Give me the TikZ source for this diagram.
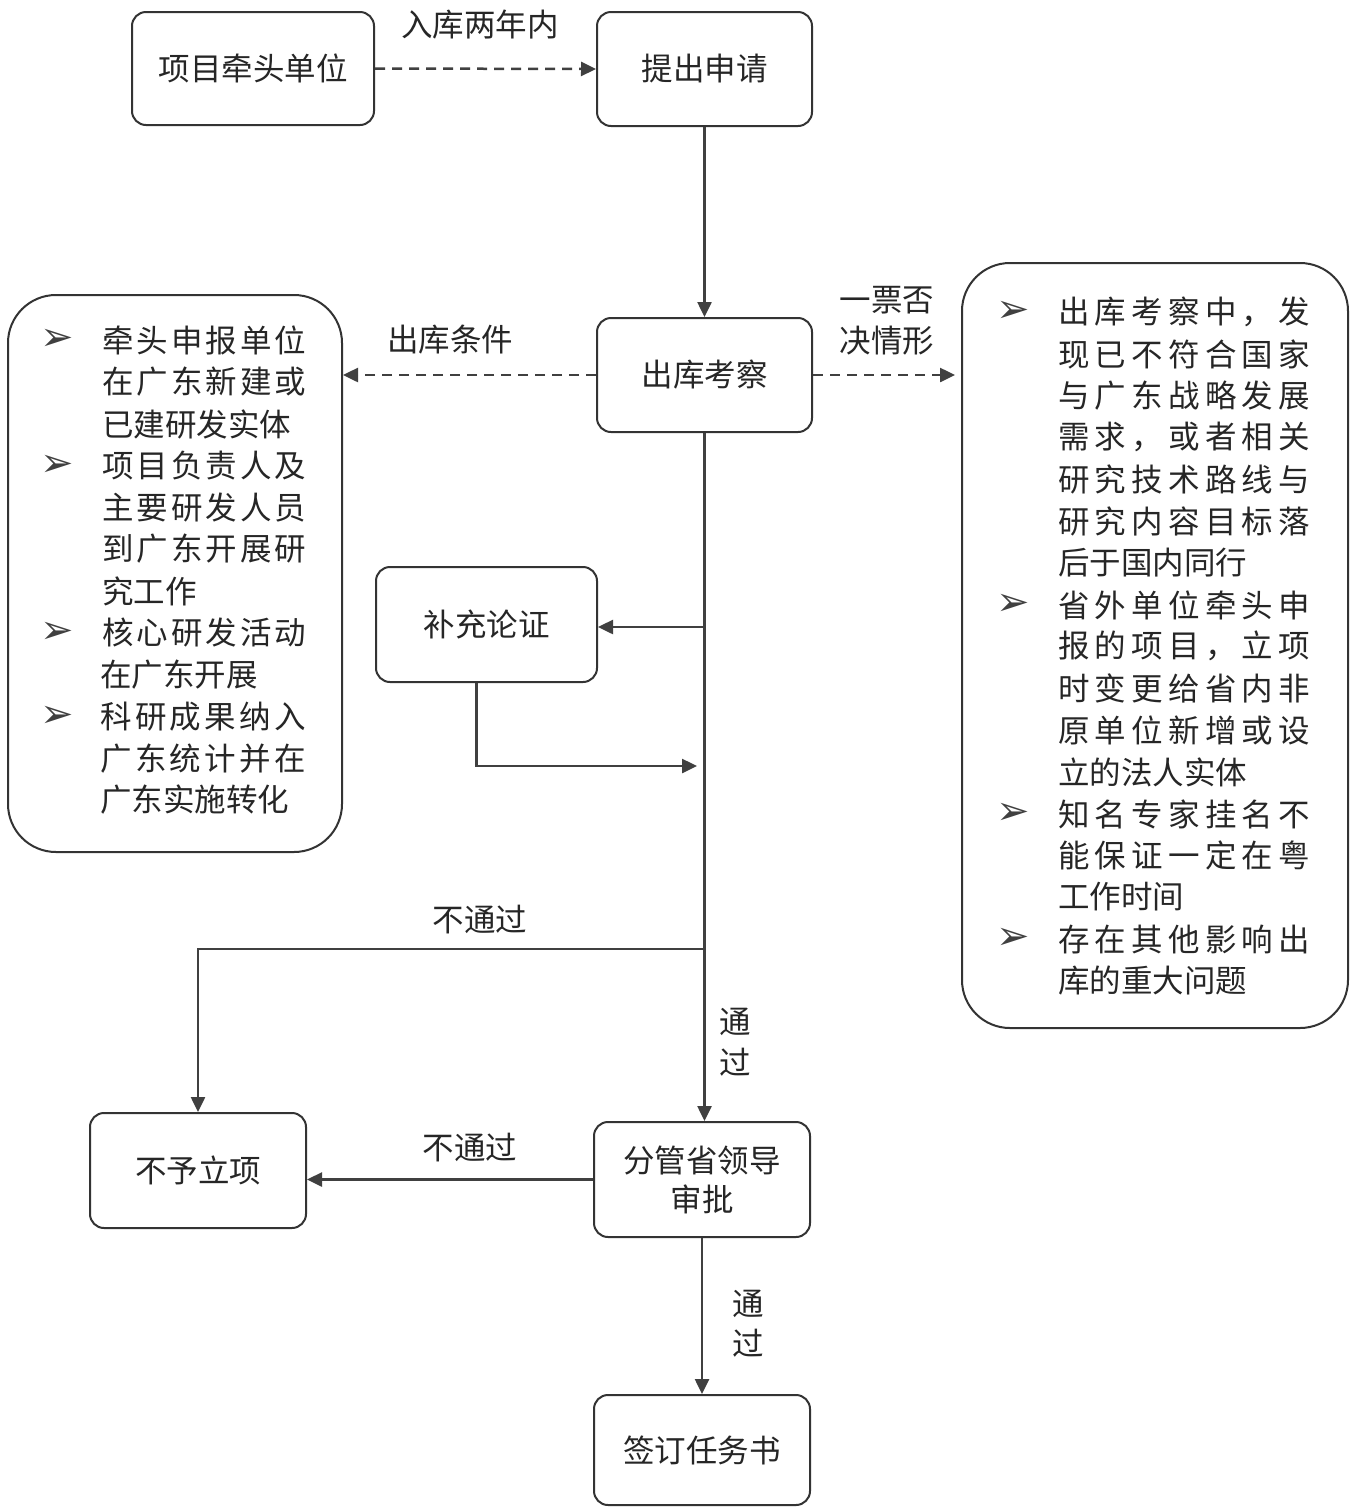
\documentclass[tikz,border=0pt]{standalone}
\usepackage{fontspec}
\setmainfont{Noto Sans CJK SC}
\newfontfamily\dejavu{DejaVu Sans}
\usetikzlibrary{arrows.meta}
\def\jchars#1{\jcA#1\relax\relax}
\def\jcA#1{\ifx\relax#1\else#1\expandafter\jcB\fi}
\def\jcB#1{\ifx\relax#1\else\hfill#1\expandafter\jcB\fi}
\newcommand{\jl}[2]{\makebox[#1pt][s]{\jchars{#2}}}
\begin{document}
\begin{tikzpicture}[x=1pt,y=-1pt,
  every node/.style={font=\fontsize{31.5}{37}\selectfont, text=black!85},
  box/.style={draw=black!80, line width=2pt, rounded corners=14pt, fill=white, align=center, inner sep=0pt},
  bigbox/.style={draw=black!80, line width=2pt, rounded corners=48pt, inner sep=0pt},
  arr/.style={draw=black!75, line width=2.5pt, -{Triangle[length=15pt,width=14pt]}},
  darr/.style={arr, dash pattern=on 10pt off 7pt},
  lbl/.style={inner sep=0pt},
  ln/.style={inner sep=0pt, anchor=west},
  bul/.style={inner sep=0pt, font=\dejavu\fontsize{40}{40}\selectfont, text=black!75}]
\useasboundingbox[fill=white] (0,0) rectangle (1358,1508);

% boxes
\node[box, minimum width=242pt, minimum height=113pt] (xm) at (253,68.5) {项目牵头单位};
\node[box, minimum width=215pt, minimum height=114pt] (tc) at (704.5,69) {提出申请};
\node[box, minimum width=215pt, minimum height=114pt] (ck) at (704.5,375) {出库考察};
\node[box, minimum width=221pt, minimum height=115pt] (bc) at (486.5,624.5) {补充论证};
\node[box, minimum width=216pt, minimum height=115pt] (byl) at (198,1170.5) {不予立项};
\node[box, minimum width=216pt, minimum height=115pt] (fg) at (702,1179.5) {分管省领导\\[2pt]审批};
\node[box, minimum width=216pt, minimum height=110pt] (qd) at (702,1450) {签订任务书};
\node[bigbox, minimum width=334pt, minimum height=557pt] (L) at (175,573.5) {};
\node[bigbox, minimum width=386pt, minimum height=765pt] (R) at (1155,645.5) {};

% left box text
\node[bul] (lb1) at (57,340) {➢};
\node[bul] (lb2) at (57,466) {➢};
\node[bul] (lb3) at (57,633) {➢};
\node[bul] (lb4) at (57,717) {➢};
\node[ln] (l1) at (102,340) {\jl{204}{牵头申报单位}};
\node[ln] (l2) at (102,382) {\jl{204}{在广东新建或}};
\node[ln] (l3) at (102,424) {已建研发实体};
\node[ln] (l4) at (102,466) {\jl{204}{项目负责人及}};
\node[ln] (l5) at (102,508) {\jl{204}{主要研发人员}};
\node[ln] (l6) at (102,549) {\jl{204}{到广东开展研}};
\node[ln] (l7) at (102,591) {究工作};
\node[ln] (l8) at (102,633) {\jl{204}{核心研发活动}};
\node[ln] (l9) at (100,675) {在广东开展};
\node[ln] (l10) at (100,717) {\jl{206}{科研成果纳入}};
\node[ln] (l11) at (100,759) {\jl{206}{广东统计并在}};
\node[ln] (l12) at (100,800) {广东实施转化};

% right box text
\node[bul] (rb1) at (1013,312) {➢};
\node[bul] (rb2) at (1013,605) {➢};
\node[bul] (rb3) at (1013,814) {➢};
\node[bul] (rb4) at (1013,939) {➢};
\node[ln] (r1) at (1058,312) {\jl{252}{出库考察中，发}};
\node[ln] (r2) at (1058,354) {\jl{252}{现已不符合国家}};
\node[ln] (r3) at (1058,396) {\jl{252}{与广东战略发展}};
\node[ln] (r4) at (1058,437) {\jl{252}{需求，或者相关}};
\node[ln] (r5) at (1058,479) {\jl{252}{研究技术路线与}};
\node[ln] (r6) at (1058,521) {\jl{252}{研究内容目标落}};
\node[ln] (r7) at (1058,563) {后于国内同行};
\node[ln] (r8) at (1058,605) {\jl{252}{省外单位牵头申}};
\node[ln] (r9) at (1058,646) {\jl{252}{报的项目，立项}};
\node[ln] (r10) at (1058,688) {\jl{252}{时变更给省内非}};
\node[ln] (r11) at (1058,730) {\jl{252}{原单位新增或设}};
\node[ln] (r12) at (1058,772) {立的法人实体};
\node[ln] (r13) at (1058,814) {\jl{252}{知名专家挂名不}};
\node[ln] (r14) at (1058,855) {\jl{252}{能保证一定在粤}};
\node[ln] (r15) at (1058,897) {工作时间};
\node[ln] (r16) at (1058,939) {\jl{252}{存在其他影响出}};
\node[ln] (r17) at (1058,981) {库的重大问题};

% labels
\node[lbl] (t1) at (480,25) {入库两年内};
\node[lbl] (t2) at (450,340) {出库条件};
\node[lbl] (t3) at (887,300) {一票否};
\node[lbl] (t4) at (887,341) {决情形};
\node[lbl] (t5) at (480,920) {不通过};
\node[lbl] (t6) at (470,1148) {不通过};
\node[lbl] (t7) at (735,1022) {通};
\node[lbl] (t8) at (735,1062) {过};
\node[lbl] (t9) at (748,1304) {通};
\node[lbl] (t10) at (748,1343) {过};

% coordinates
\coordinate (j1) at (704.5,627);
\coordinate (j2) at (697,766);
\coordinate (j3) at (704.5,949);
\coordinate (rend) at (955,375);

% connectors
\draw[darr] (xm.east) -- (tc.west);
\draw[arr] (tc.south) -- (ck.north);
\draw[darr] (ck.west) -- (ck.west -| L.east);
\draw[darr] (ck.east) -- (rend);
\draw[arr] (ck.south) -- (ck.south |- fg.north);
\draw[arr] (j1) -- (j1 -| bc.east);
\draw[arr] ([xshift=-10pt]bc.south) |- (j2);
\draw[arr] (j3) -| (byl.north);
\draw[arr] (fg.west) -- (fg.west -| byl.east);
\draw[arr] (fg.south) -- (qd.north);
\end{tikzpicture}
\end{document}
